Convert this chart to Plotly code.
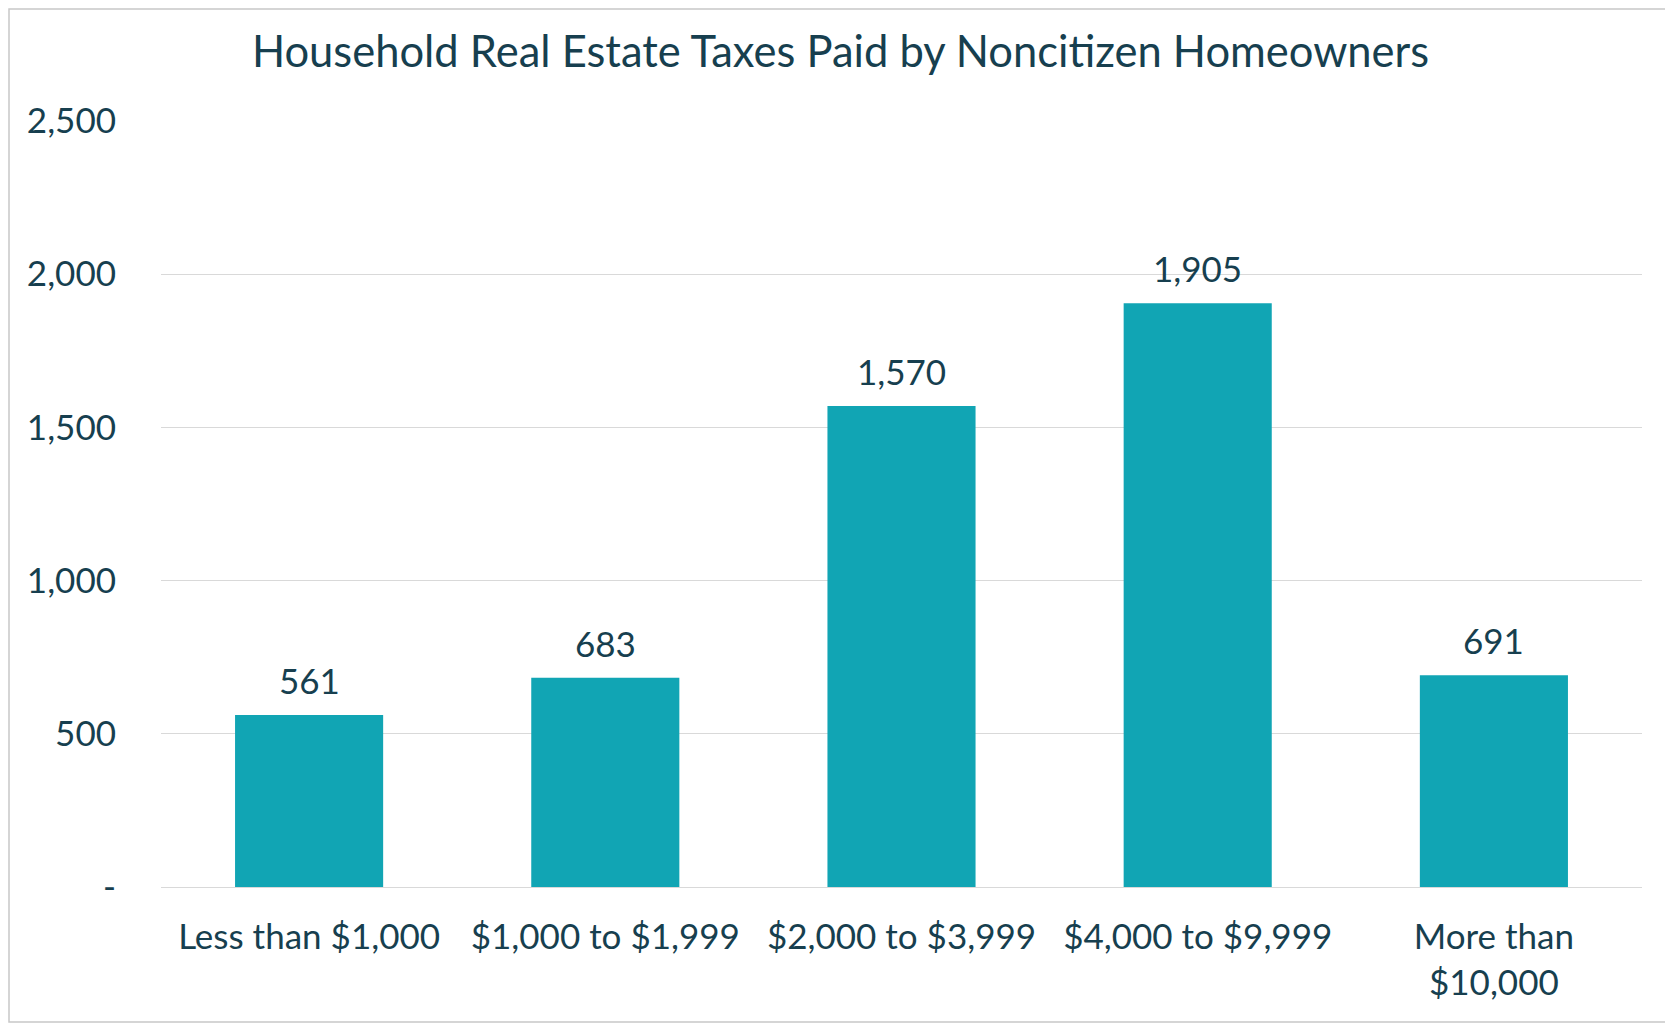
import plotly.graph_objects as go

categories = ["Less than $1,000", "$1,000 to $1,999", "$2,000 to $3,999", "$4,000 to $9,999", "More than<br>$10,000"]
values = [561, 683, 1570, 1905, 691]
tick_vals = [0, 500, 1000, 1500, 2000, 2500]
tick_text = ["-", "500", "1,000", "1,500", "2,000", "2,500"]

TXT = "#173f4f"
FONT = "Lato, 'Open Sans', sans-serif"

W, H = 1665, 1015
L, R, T, B = 153, 31, 113, 136
PW, PH = W - L - R, H - T - B

fig = go.Figure(go.Bar(
    x=categories, y=values,
    marker=dict(color="#11a5b4", line=dict(width=0)),
    hoverinfo="x+y",
))

for c, v in zip(categories, values):
    fig.add_annotation(x=c, y=v, text=f"{v:,}", showarrow=False,
                       xanchor="center", yanchor="bottom", yshift=12,
                       font=dict(size=35, color=TXT, family=FONT))

fig.update_layout(
    width=W, height=H,
    margin=dict(l=L, r=R, t=T, b=B),
    paper_bgcolor="white", plot_bgcolor="white",
    bargap=0.5,
    showlegend=False,
    title=dict(text="Household Real Estate Taxes Paid by Noncitizen Homeowners",
               x=0.5, xref="container", xanchor="center",
               y=1 - 44/H, yref="container", yanchor="middle",
               font=dict(size=43.5, color=TXT, family=FONT)),
    font=dict(family=FONT, color=TXT),
    xaxis=dict(showgrid=False, showline=False, zeroline=False, ticks="",
               tickfont=dict(size=35, color=TXT, family=FONT),
               ticklabelstandoff=26),
    yaxis=dict(range=[0, 2500], tickvals=tick_vals, ticktext=tick_text,
               showgrid=True, gridcolor="#d9d9d9", gridwidth=1.3,
               zeroline=True, zerolinecolor="#d9d9d9", zerolinewidth=1.3,
               showline=False, ticks="",
               tickfont=dict(size=35, color=TXT, family=FONT),
               ticklabelstandoff=44),
    shapes=[dict(type="rect", xref="paper", yref="paper",
                 x0=-(L - 1) / PW, x1=1 + (R - 1) / PW, y0=-(B - 1) / PH, y1=1 + (T - 1) / PH,
                 line=dict(color="#c8c8c8", width=1.5), fillcolor="rgba(0,0,0,0)")],
)

fig.write_html("out.html")
